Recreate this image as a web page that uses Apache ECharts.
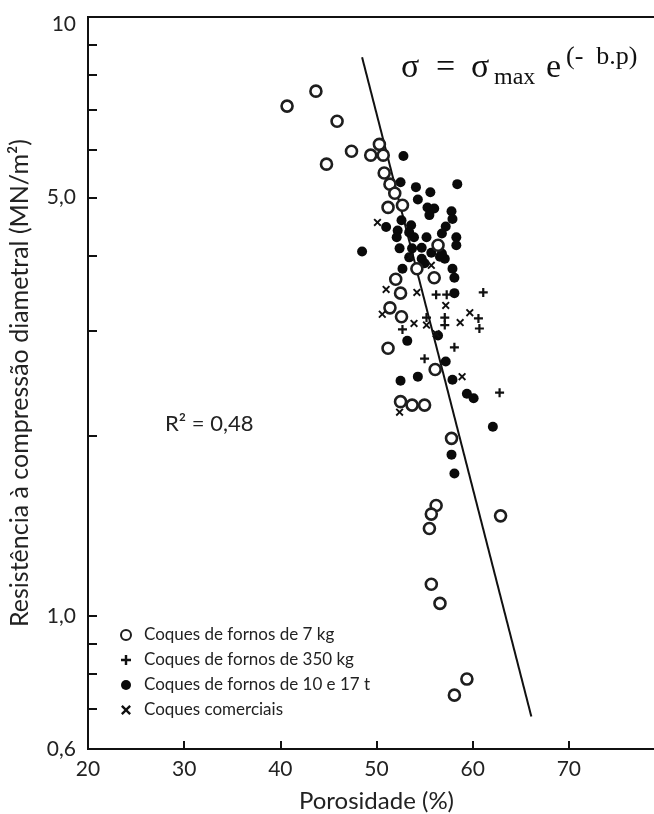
<!DOCTYPE html>
<html>
<head>
<meta charset="utf-8">
<script src="https://cdn.jsdelivr.net/npm/echarts@6/dist/echarts.min.js"></script>
<style>
html, body { margin: 0; padding: 0; background: #fff; }
#chart { width: 654px; height: 814px; }
</style>
</head>
<body>
<div id="chart"></div>
<script>
// Axis ticks / labels
const xMin = 20
const xMax = 80
const yMin = 0.6
const yMax = 10
const yTickValues = [0.6, 0.7, 0.8, 0.9, 1, 2, 3, 4, 5, 6, 7, 8, 9, 10]
const yLabelValues = [0.6, 1, 5, 10]
const yLabelText = { 0.6: '0,6', 1: '1,0', 5: '5,0', 10: '{top|10}' }

// [porosidade %, resistência MN/m²]
const coques7kg = [
  [40.7, 7.10], [43.7, 7.52], [45.9, 6.70], [44.8, 5.68], [47.4, 5.97],
  [49.4, 5.88], [50.3, 6.13], [50.7, 5.88], [50.8, 5.49], [51.4, 5.26],
  [51.9, 5.08], [51.2, 4.81], [52.7, 4.85], [56.4, 4.16], [56.0, 3.67],
  [54.2, 3.80], [52.0, 3.65], [52.5, 3.46], [51.4, 3.27], [52.6, 3.16],
  [51.2, 2.80], [56.1, 2.58], [52.5, 2.28], [53.7, 2.25], [55.0, 2.25],
  [57.8, 1.98], [56.2, 1.53], [55.7, 1.48], [55.5, 1.40], [62.9, 1.47],
  [55.7, 1.13], [56.6, 1.05], [59.4, 0.785], [58.1, 0.738]
]
const coques350kg = [
  [61.1, 3.47], [56.2, 3.44], [57.3, 3.44], [55.2, 3.15], [57.1, 3.15],
  [57.1, 3.06], [60.6, 3.14], [60.7, 3.02], [52.7, 3.01], [58.1, 2.81],
  [55.0, 2.69], [62.8, 2.36]
]
const coques10t = [
  [52.8, 5.86], [58.4, 5.26], [52.5, 5.30], [54.1, 5.20], [55.6, 5.10],
  [54.3, 4.96], [55.3, 4.81], [56.0, 4.79], [55.5, 4.67], [57.8, 4.74],
  [57.9, 4.60], [52.6, 4.58], [51.0, 4.46], [52.2, 4.40], [53.6, 4.49],
  [57.2, 4.47], [52.1, 4.29], [53.9, 4.29], [55.2, 4.29], [56.8, 4.35],
  [58.3, 4.29], [58.3, 4.16], [48.5, 4.06], [52.4, 4.11], [53.7, 4.11],
  [54.7, 4.12], [55.7, 4.04], [56.6, 3.98], [57.1, 3.95], [53.4, 3.97],
  [54.7, 3.95], [52.7, 3.80], [57.9, 3.80], [58.1, 3.67], [58.1, 3.46],
  [55.0, 3.88], [53.4, 4.37], [56.8, 4.03], [53.2, 2.88], [56.4, 2.94],
  [57.2, 2.66], [52.5, 2.47], [54.3, 2.51], [57.9, 2.48], [59.4, 2.35],
  [60.1, 2.31], [62.1, 2.07], [57.8, 1.86], [58.1, 1.73]
]
const coquesComerciais = [
  [50.1, 4.54], [51.0, 3.51], [54.2, 3.47], [57.2, 3.30], [50.6, 3.19],
  [53.9, 3.08], [55.2, 3.06], [56.2, 2.96], [58.7, 3.09], [59.7, 3.21],
  [58.9, 2.51], [52.4, 2.19], [55.7, 3.85], [53.5, 3.98]
]
// fitted line σ = σmax e^(-b.p)
const fitLine = [[48.5, 8.57], [66.1, 0.68]]

const plusPath = 'path://M3.4,0H5.6V3.4H9V5.6H5.6V9H3.4V5.6H0V3.4H3.4Z'
const crossPath = 'path://M0,1.5L1.5,0L4.5,3L7.5,0L9,1.5L6,4.5L9,7.5L7.5,9L4.5,6L1.5,9L0,7.5L3,4.5Z'
const font = 'Lato, "Open Sans", sans-serif'
const serif = '"Liberation Serif", "DejaVu Serif", serif'

const chart = echarts.init(document.getElementById('chart'))

chart.setOption({
  animation: false,
  backgroundColor: '#fff',
  grid: {
    left: 88,
    top: 17,
    width: 577,
    height: 732,
    show: true,
    borderColor: '#111',
    borderWidth: 2,
    outerBoundsMode: 'none'
  },
  legend: {
    orient: 'vertical',
    left: 115,
    top: 621,
    itemWidth: 26,
    itemHeight: 10,
    itemGap: 7,
    textStyle: { fontFamily: font, fontSize: 17, color: '#222', lineHeight: 18 },
    data: [
      'Coques de fornos de 7 kg',
      'Coques de fornos de 350 kg',
      'Coques de fornos de 10 e 17 t',
      'Coques comerciais'
    ]
  },
  xAxis: {
    type: 'value',
    min: xMin,
    max: xMax,
    interval: 10,
    name: 'Porosidade (%)',
    nameLocation: 'middle',
    nameGap: 40,
    nameTextStyle: { fontFamily: font, fontSize: 24, color: '#222' },
    axisLine: { lineStyle: { color: '#111', width: 2 } },
    axisTick: { inside: true, length: 8, lineStyle: { color: '#111', width: 2 } },
    axisLabel: { fontFamily: font, fontSize: 21, color: '#222', margin: 10, showMaxLabel: false },
    splitLine: { show: false }
  },
  yAxis: {
    type: 'log',
    logBase: 10,
    min: yMin,
    max: yMax,
    name: 'Resistência à compressão diametral (MN/m²)',
    nameLocation: 'middle',
    nameGap: 56,
    nameTextStyle: { fontFamily: font, fontSize: 25, color: '#222' },
    axisLine: { lineStyle: { color: '#111', width: 2 } },
    axisTick: { inside: true, length: 9, customValues: yTickValues, lineStyle: { color: '#111', width: 2 } },
    axisLabel: {
      fontFamily: font,
      fontSize: 21,
      color: '#222',
      margin: 12,
      customValues: yLabelValues,
      formatter: v => yLabelText[v] || '',
      rich: { top: { padding: [14, 0, 0, 0] } }
    },
    splitLine: { show: false }
  },
  graphic: [
    { type: 'text', x: 165, y: 424, style: { text: 'R² = 0,48', font: '22px ' + font, fill: '#222', verticalAlign: 'middle' } },
    { type: 'text', x: 401, y: 68, style: { text: 'σ', font: '34px ' + serif, fill: '#111', verticalAlign: 'middle' } },
    { type: 'text', x: 436, y: 68, style: { text: '=', font: '34px ' + serif, fill: '#111', verticalAlign: 'middle' } },
    { type: 'text', x: 471, y: 68, style: { text: 'σ', font: '34px ' + serif, fill: '#111', verticalAlign: 'middle' } },
    { type: 'text', x: 494, y: 78, style: { text: 'max', font: '24px ' + serif, fill: '#111', verticalAlign: 'middle' } },
    { type: 'text', x: 546, y: 68, style: { text: 'e', font: '34px ' + serif, fill: '#111', verticalAlign: 'middle' } },
    { type: 'text', x: 566, y: 57, style: { text: '(-  b.p)', font: '26px ' + serif, fill: '#111', verticalAlign: 'middle' } }
  ],
  series: [
    {
      type: 'line',
      data: fitLine,
      symbol: 'none',
      lineStyle: { color: '#111', width: 2 },
      silent: true,
      z: 1
    },
    {
      name: 'Coques de fornos de 10 e 17 t',
      type: 'scatter',
      data: coques10t,
      symbol: 'circle',
      symbolSize: 10,
      itemStyle: { color: '#0a0a0a', opacity: 1 },
      z: 2
    },
    {
      name: 'Coques de fornos de 7 kg',
      type: 'scatter',
      data: coques7kg,
      symbol: 'circle',
      symbolSize: 11,
      itemStyle: { color: '#fff', borderColor: '#1e1e1e', borderWidth: 2.6, opacity: 1 },
      z: 3
    },
    {
      name: 'Coques de fornos de 350 kg',
      type: 'scatter',
      data: coques350kg,
      symbol: plusPath,
      symbolSize: 9,
      symbolKeepAspect: true,
      itemStyle: { color: '#111', opacity: 1 },
      z: 4
    },
    {
      name: 'Coques comerciais',
      type: 'scatter',
      data: coquesComerciais,
      symbol: crossPath,
      symbolSize: 8,
      symbolKeepAspect: true,
      itemStyle: { color: '#111', opacity: 1 },
      z: 4
    }
  ]
})
</script>
</body>
</html>
